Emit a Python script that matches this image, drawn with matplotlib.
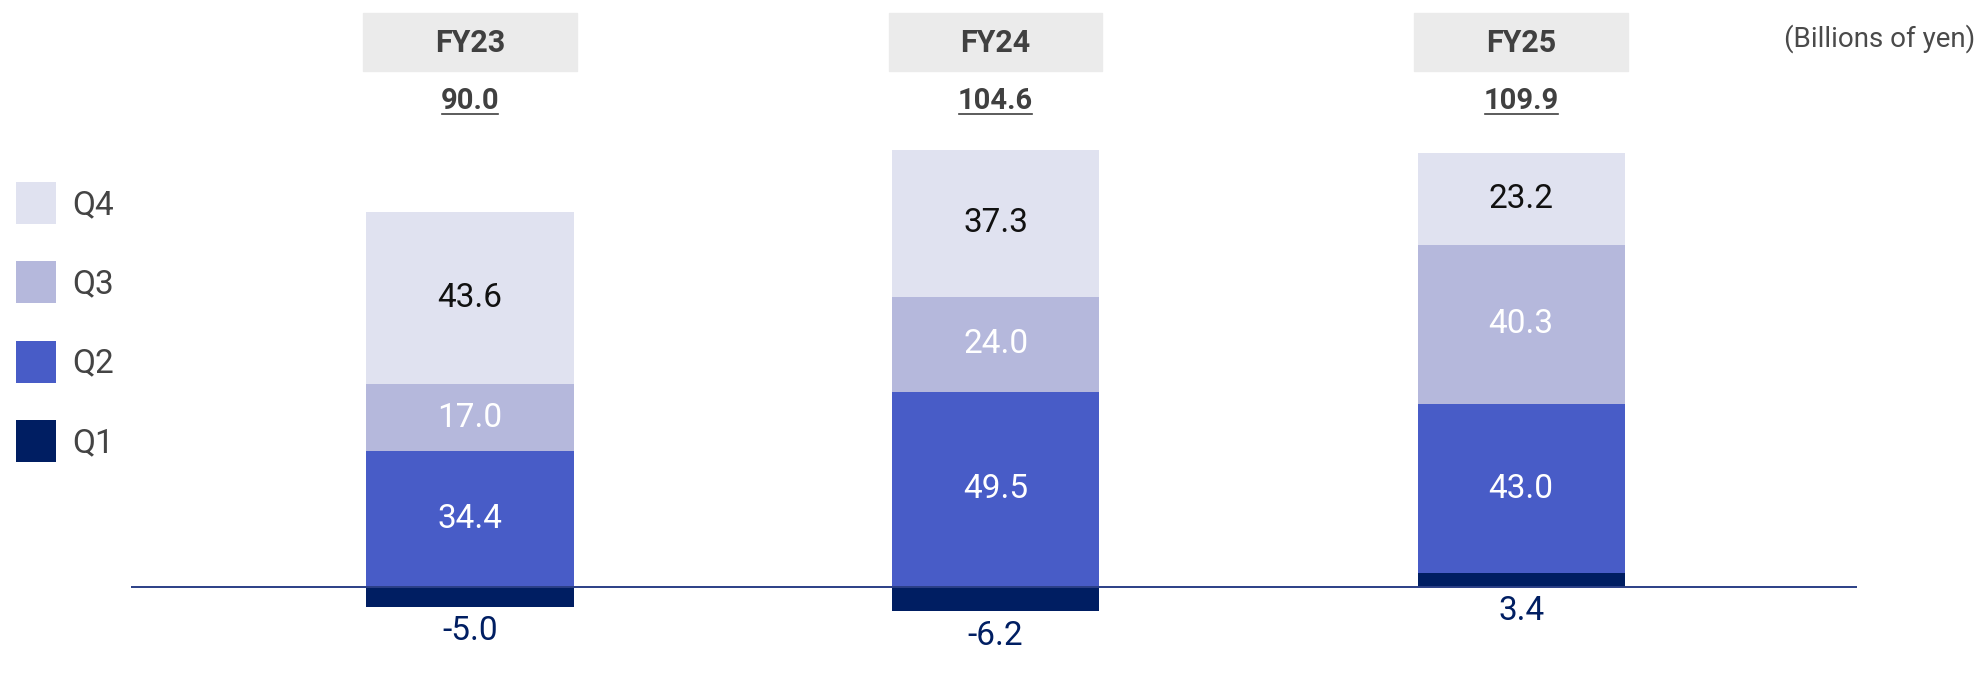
import numpy as np
import matplotlib.pyplot as plt
from matplotlib.patches import Rectangle
from matplotlib.lines import Line2D
from matplotlib.transforms import blended_transform_factory

# data (billions of yen)
years = ['FY23', 'FY24', 'FY25']
totals = ['90.0', '104.6', '109.9']
quarters = ['Q1', 'Q2', 'Q3', 'Q4']
q1 = [-5.0, -6.2, 3.4]
q2 = [34.4, 49.5, 43.0]
q3 = [17.0, 24.0, 40.3]
q4 = [43.6, 37.3, 23.2]

colors = ['#001E62', '#485CC7', '#B5B8DC', '#E0E2F0']
label_colors = ['#001E62', 'white', 'white', '#111111']
grey = '#404040'

plt.rcParams['font.family'] = ['Roboto', 'DejaVu Sans']

fig = plt.figure(figsize=(19.79, 6.97), dpi=100)
ax = fig.add_axes([131 / 1979, 0, 1726 / 1979, 1])
x = np.arange(len(years))
width = 0.394

# stacked bars, positive parts stack upwards, negative Q1 goes below zero
pos_base = np.zeros(len(years))
bars = []
for i, vals in enumerate([q1, q2, q3, q4]):
    vals = np.array(vals)
    bottom = np.where(vals >= 0, pos_base, 0)
    b = ax.bar(x, vals, width, bottom=bottom, color=colors[i], zorder=2)
    bars.append(b)
    pos_base = pos_base + np.where(vals >= 0, vals, 0)
    if i > 0:
        ax.bar_label(b, labels=[f'{v:.1f}' for v in vals], label_type='center',
                     color=label_colors[i], fontsize=24)

# Q1 segments are thin, so their labels go just under the zero line / bar
for xi, v in zip(x, q1):
    ax.annotate(f'{v:.1f}', (xi, min(v, 0)), xytext=(0, -6), textcoords='offset points',
                ha='center', va='top', fontsize=24, color=label_colors[0])

ax.axhline(0, color='#2B3F86', lw=1.4, zorder=5)
ax.set_xlim(-0.645, 2.639)
ax.set_ylim(-27.9, 148.7)
ax.axis('off')

# year header boxes and totals
trans = blended_transform_factory(ax.transData, ax.transAxes)
total_texts = []
for xi, yr, tot in zip(x, years, totals):
    w = width + 0.012
    ax.add_patch(Rectangle((xi - w / 2, 0.898), w, 0.083, transform=trans,
                           color='#EBEBEB', clip_on=False, zorder=1))
    ax.text(xi, 0.939, yr, transform=trans, ha='center', va='center',
            fontsize=22, fontweight='bold', color=grey)
    t = ax.text(xi, 0.855, tot, transform=trans, ha='center', va='center',
                fontsize=21, fontweight='bold', color=grey)
    total_texts.append(t)

fig.text(1975 / 1979, 1 - 39 / 697, '(Billions of yen)', ha='right', va='center',
         fontsize=20, color='#4A4A4A')

fig.legend(handles=bars[::-1], labels=quarters[::-1], loc='upper left',
           bbox_to_anchor=(16 / 1979, 1 - 182 / 697), frameon=False,
           borderpad=0, borderaxespad=0, handlelength=1.2, handleheight=1.55,
           handletextpad=0.5, labelspacing=1.13, labelcolor='#444444',
           prop={'family': 'Roboto', 'size': 24})

# underline the totals
fig.canvas.draw()
r = fig.canvas.get_renderer()
for t in total_texts:
    bb = t.get_window_extent(r)
    fig.add_artist(Line2D([bb.x0 + 1, bb.x1 - 1], [bb.y0 + 1, bb.y0 + 1],
                          transform=None, color=grey, lw=1.2))

fig.savefig('out.png', dpi=100)
